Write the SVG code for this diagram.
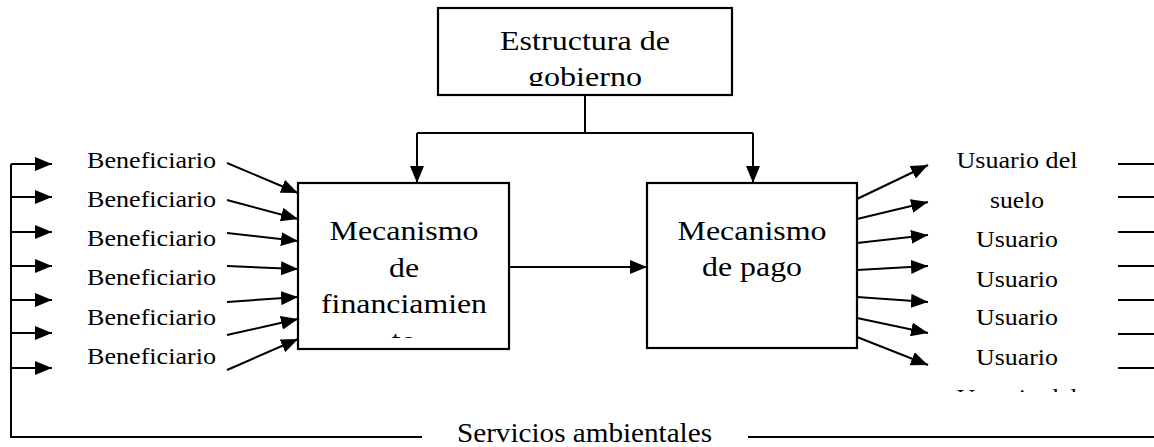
<svg xmlns="http://www.w3.org/2000/svg" width="1154" height="447" viewBox="0 0 1154 447" font-family="'Liberation Serif', 'Times New Roman', Times, serif">
  <style>
    .box { fill: #ffffff; stroke: #000000; stroke-width: 2.2; }
    .ln { fill: none; stroke: #000000; stroke-width: 2; }
    .arr { fill: none; stroke: #000000; stroke-width: 2; marker-end: url(#ah); }
    text { font-family: 'Liberation Serif', 'Times New Roman', Times, serif; fill: #000000; }
    .big { font-size: 28px; }
    .sm { font-size: 23px; }
    .mid { text-anchor: middle; }
  </style>
  <defs>
    <marker id="ah" markerUnits="userSpaceOnUse" markerWidth="17" markerHeight="14" refX="17" refY="7" orient="auto">
      <path d="M0,0 L17,7 L0,14 z" fill="#000000"/>
    </marker>
    <clipPath id="clipTop"><rect x="438" y="8" width="294" height="78"/></clipPath>
    <clipPath id="clipFin"><rect x="298" y="183" width="211" height="155"/></clipPath>
    <clipPath id="clipUsr"><rect x="940" y="370" width="150" height="22"/></clipPath>
  </defs>

  <g id="connectors">
    <path class="ln" d="M585,95 V133"/>
    <path class="ln" d="M417,133 H753"/>
    <path class="arr" d="M417,133 V183"/>
    <path class="arr" d="M753,133 V183"/>
    <path class="arr" d="M509,267 H647"/>
    <path class="ln" d="M11,164 V437 H422"/>
    <path class="ln" d="M748,437 H1154"/>
    <path class="arr" d="M11,164 H52"/>
    <path class="arr" d="M11,197 H52"/>
    <path class="arr" d="M11,232 H52"/>
    <path class="arr" d="M11,266 H52"/>
    <path class="arr" d="M11,300 H52"/>
    <path class="arr" d="M11,333 H52"/>
    <path class="arr" d="M11,368 H52"/>
    <path class="arr" d="M227,163 L298,193"/>
    <path class="arr" d="M227,200 L298,219"/>
    <path class="arr" d="M227,233 L298,241"/>
    <path class="arr" d="M227,266 L298,269"/>
    <path class="arr" d="M227,302 L298,297"/>
    <path class="arr" d="M227,335 L298,319"/>
    <path class="arr" d="M227,370 L298,339"/>
    <path class="arr" d="M857,199 L928,165"/>
    <path class="arr" d="M857,219 L928,202"/>
    <path class="arr" d="M857,243 L928,235"/>
    <path class="arr" d="M857,270 L928,266"/>
    <path class="arr" d="M857,297 L928,302"/>
    <path class="arr" d="M857,318 L928,333"/>
    <path class="arr" d="M857,337 L928,365"/>
    <path class="ln" d="M1118,164 H1154"/>
    <path class="ln" d="M1118,197 H1154"/>
    <path class="ln" d="M1118,232 H1154"/>
    <path class="ln" d="M1118,266 H1154"/>
    <path class="ln" d="M1118,300 H1154"/>
    <path class="ln" d="M1118,334 H1154"/>
    <path class="ln" d="M1118,368 H1154"/>
  </g>

  <g id="gobierno">
    <rect class="box" x="438" y="8" width="294" height="87"/>
    <g clip-path="url(#clipTop)">
      <text class="big mid" x="585" y="50" textLength="170" lengthAdjust="spacingAndGlyphs">Estructura de</text>
      <text class="big mid" x="585" y="86" textLength="114" lengthAdjust="spacingAndGlyphs">gobierno</text>
    </g>
  </g>

  <g id="financiamiento">
    <rect class="box" x="298" y="183" width="211" height="166"/>
    <g clip-path="url(#clipFin)">
      <text class="big mid" x="404" y="240" textLength="149" lengthAdjust="spacingAndGlyphs">Mecanismo</text>
      <text class="big mid" x="404" y="276.5" textLength="30" lengthAdjust="spacingAndGlyphs">de</text>
      <text class="big mid" x="404" y="313" textLength="166" lengthAdjust="spacingAndGlyphs">financiamien</text>
      <text class="big mid" x="404" y="349.5" textLength="25" lengthAdjust="spacingAndGlyphs">to</text>
    </g>
  </g>

  <g id="pago">
    <rect class="box" x="647" y="183" width="210" height="165"/>
    <text class="big mid" x="752" y="240" textLength="149" lengthAdjust="spacingAndGlyphs">Mecanismo</text>
    <text class="big mid" x="752" y="276" textLength="100" lengthAdjust="spacingAndGlyphs">de pago</text>
  </g>

  <g id="beneficiarios">
    <text class="sm" x="87" y="168" textLength="129" lengthAdjust="spacingAndGlyphs">Beneficiario</text>
    <text class="sm" x="87" y="207" textLength="129" lengthAdjust="spacingAndGlyphs">Beneficiario</text>
    <text class="sm" x="87" y="246" textLength="129" lengthAdjust="spacingAndGlyphs">Beneficiario</text>
    <text class="sm" x="87" y="285" textLength="129" lengthAdjust="spacingAndGlyphs">Beneficiario</text>
    <text class="sm" x="87" y="325" textLength="129" lengthAdjust="spacingAndGlyphs">Beneficiario</text>
    <text class="sm" x="87" y="364" textLength="129" lengthAdjust="spacingAndGlyphs">Beneficiario</text>
  </g>

  <g id="usuarios">
    <text class="sm mid" x="1017" y="168" textLength="121" lengthAdjust="spacingAndGlyphs">Usuario del</text>
    <text class="sm mid" x="1017" y="208" textLength="54" lengthAdjust="spacingAndGlyphs">suelo</text>
    <text class="sm mid" x="1017" y="247" textLength="82" lengthAdjust="spacingAndGlyphs">Usuario</text>
    <text class="sm mid" x="1017" y="287" textLength="82" lengthAdjust="spacingAndGlyphs">Usuario</text>
    <text class="sm mid" x="1017" y="325" textLength="82" lengthAdjust="spacingAndGlyphs">Usuario</text>
    <text class="sm mid" x="1017" y="365" textLength="82" lengthAdjust="spacingAndGlyphs">Usuario</text>
    <g clip-path="url(#clipUsr)">
      <text class="sm mid" x="1017" y="405" textLength="121" lengthAdjust="spacingAndGlyphs">Usuario del</text>
    </g>
  </g>

  <g id="servicios">
    <text x="457" y="442" style="font-size:27px" textLength="255" lengthAdjust="spacingAndGlyphs">Servicios ambientales</text>
  </g>
</svg>
